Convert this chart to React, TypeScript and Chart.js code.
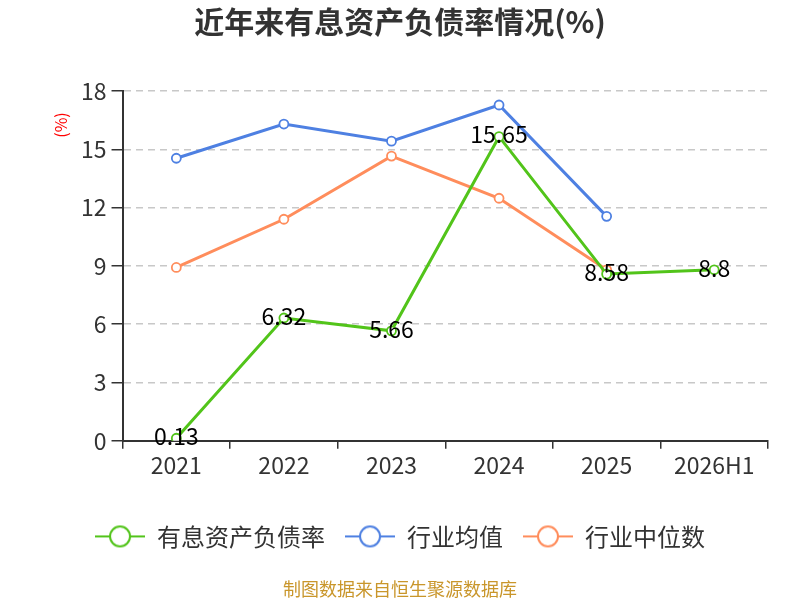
import { useEffect, useRef } from 'react';
import { Chart, registerables } from 'chart.js';

Chart.register(...registerables);

const years = ['2021', '2022', '2023', '2024', '2025', '2026H1'];
const debtRatio = [0.13, 6.32, 5.66, 15.65, 8.58, 8.8];
const industryMean = [14.54, 16.3, 15.42, 17.28, 11.55, null];
const industryMedian = [8.92, 11.4, 14.65, 12.48, 8.8, null];
const yMax = 18;
const yStep = 3;

const FONT = "'Noto Sans CJK SC', 'Noto Sans', sans-serif";
const GREEN = '#52c41a';
const BLUE = '#4e80e2';
const ORANGE = '#ff8d5c';

function legendIcon(color: string) {
  const c = document.createElement('canvas');
  c.width = 50;
  c.height = 24;
  const g = c.getContext('2d');
  if (g) {
    g.strokeStyle = color;
    g.lineWidth = 2;
    g.beginPath();
    g.moveTo(0, 12);
    g.lineTo(50, 12);
    g.stroke();
    g.beginPath();
    g.arc(25, 12, 10, 0, Math.PI * 2);
    g.fillStyle = '#fff';
    g.fill();
    g.stroke();
  }
  return c;
}

// value labels on the first series only
const valueLabels = {
  id: 'valueLabels',
  afterDatasetsDraw(chart: Chart) {
    const ctx = chart.ctx;
    const meta = chart.getDatasetMeta(0);
    ctx.save();
    ctx.font = `23px ${FONT}`;
    ctx.fillStyle = '#000';
    ctx.textAlign = 'center';
    ctx.textBaseline = 'middle';
    meta.data.forEach((pt, i) => {
      ctx.fillText(String(debtRatio[i]), pt.x, pt.y - 2);
    });
    ctx.restore();
  },
};

// red unit label at the top of the y axis
const unitLabel = {
  id: 'unitLabel',
  afterDraw(chart: Chart) {
    const { ctx, chartArea } = chart;
    ctx.save();
    ctx.translate(chartArea.left - 62, chartArea.top + 34);
    ctx.rotate(-Math.PI / 2);
    ctx.font = `16px ${FONT}`;
    ctx.fillStyle = '#ff0000';
    ctx.textAlign = 'center';
    ctx.textBaseline = 'middle';
    ctx.fillText('(%)', 0, 0);
    ctx.restore();
  },
};

export default function App() {
  const canvasRef = useRef<HTMLCanvasElement>(null);
  const chartRef = useRef<Chart | null>(null);

  useEffect(() => {
    document.body.style.margin = '0';
    if (!canvasRef.current) return;
    if (chartRef.current) chartRef.current.destroy();

    const icons = [legendIcon(GREEN), legendIcon(BLUE), legendIcon(ORANGE)];

    chartRef.current = new Chart(canvasRef.current, {
      type: 'line',
      data: {
        labels: years,
        datasets: [
          {
            label: '有息资产负债率',
            data: debtRatio,
            borderColor: GREEN,
            backgroundColor: '#fff',
            borderWidth: 3,
            pointRadius: 4.5,
            pointBorderWidth: 1.8,
          },
          {
            label: '行业均值',
            data: industryMean,
            borderColor: BLUE,
            backgroundColor: '#fff',
            borderWidth: 3,
            pointRadius: 4.5,
            pointBorderWidth: 1.8,
          },
          {
            label: '行业中位数',
            data: industryMedian,
            borderColor: ORANGE,
            backgroundColor: '#fff',
            borderWidth: 3,
            pointRadius: 4.5,
            pointBorderWidth: 1.8,
          },
        ],
      },
      options: {
        animation: false,
        responsive: true,
        maintainAspectRatio: false,
        layout: { padding: { left: 32, right: 32, top: 0, bottom: 0 } },
        elements: { point: { pointStyle: 'circle' } },
        plugins: {
          title: {
            display: true,
            text: '近年来有息资产负债率情况(%)',
            color: '#333',
            font: { family: FONT, size: 30, weight: 'bold' },
            padding: { top: 4, bottom: 51 },
          },
          subtitle: {
            display: true,
            position: 'bottom',
            text: '制图数据来自恒生聚源数据库',
            color: '#c9962b',
            font: { family: FONT, size: 18 },
            padding: { top: 20, bottom: 0 },
          },
          legend: {
            position: 'bottom',
            labels: {
              usePointStyle: true,
              pointStyleWidth: 50,
              padding: 20,
              color: '#333',
              font: { family: FONT, size: 24 },
              generateLabels: (chart: Chart) =>
                chart.data.datasets.map((ds, i) => ({
                  text: ds.label as string,
                  pointStyle: icons[i],
                  fillStyle: '#fff',
                  strokeStyle: ds.borderColor as string,
                  lineWidth: 0,
                  hidden: false,
                  datasetIndex: i,
                  fontColor: '#333',
                })),
            },
          },
          tooltip: { enabled: false },
        },
        scales: {
          x: {
            offset: true,
            afterFit: (scale: any) => {
              scale.height += 22;
            },
            grid: {
              offset: true,
              drawOnChartArea: false,
              drawTicks: true,
              tickLength: 8,
              color: '#333',
              lineWidth: 1.5,
            },
            border: { color: '#333', width: 2 },
            ticks: {
              color: '#333',
              padding: 3,
              font: { family: FONT, size: 23 },
            },
          },
          y: {
            min: 0,
            max: yMax,
            afterFit: (scale: any) => {
              scale.width += 44;
            },
            ticks: {
              stepSize: yStep,
              color: '#333',
              padding: 5,
              font: { family: FONT, size: 23 },
            },
            grid: {
              color: '#c8c8c8',
              lineWidth: 1.5,
              tickLength: 11,
              tickColor: '#333',
              tickBorderDash: [],
            },
            border: { color: '#333', width: 2, dash: [7, 5] },
          },
        },
      },
      plugins: [valueLabels, unitLabel],
    });

    return () => {
      if (chartRef.current) {
        chartRef.current.destroy();
        chartRef.current = null;
      }
    };
  }, []);

  return (
    <div style={{ width: 800, height: 600, position: 'relative' }}>
      <canvas ref={canvasRef}></canvas>
    </div>
  );
}
